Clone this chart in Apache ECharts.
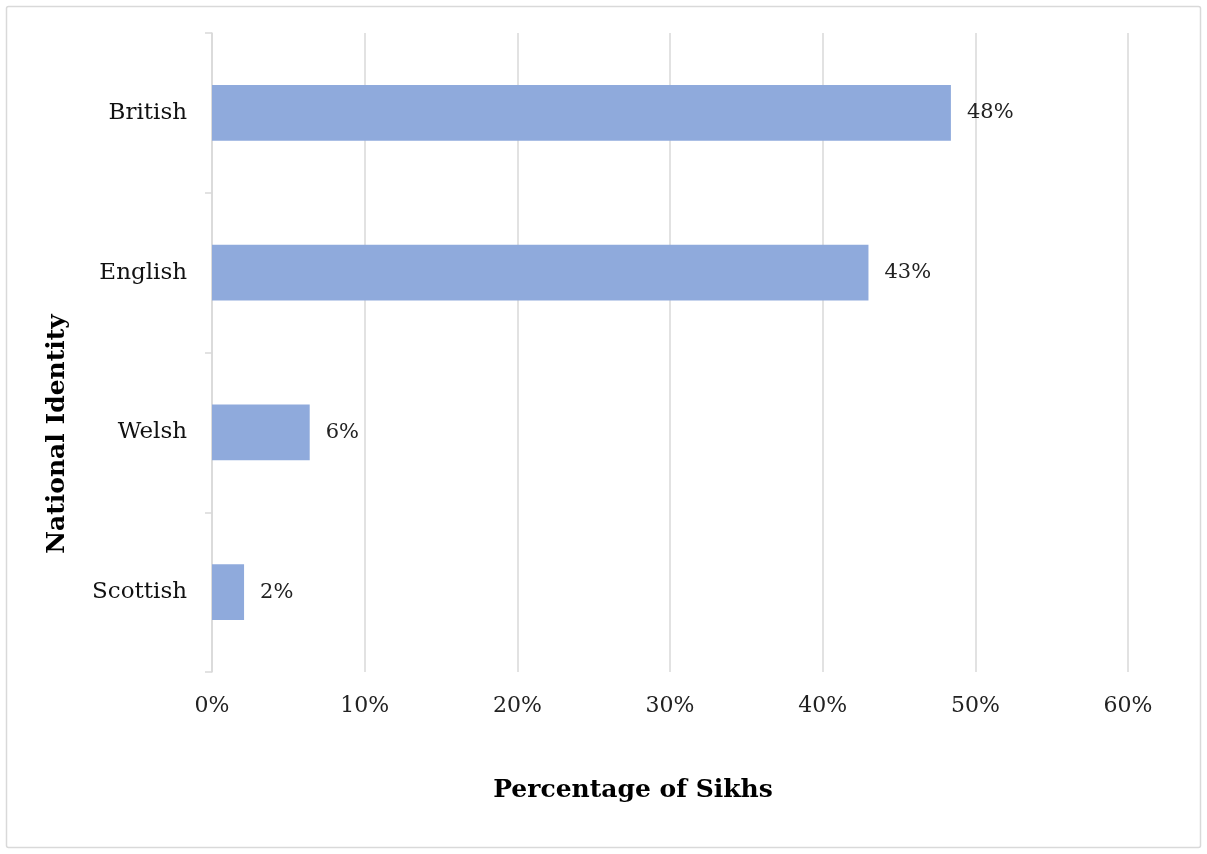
<!DOCTYPE html>
<html>
<head>
<meta charset="utf-8">
<script src="https://cdn.jsdelivr.net/npm/echarts@6/dist/echarts.min.js"></script>
<style>
  html, body { margin: 0; padding: 0; background: #fff; }
  #chart { width: 1207px; height: 854px; }
</style>
</head>
<body>
<div id="chart"></div>
<script>
// National identity categories, listed top to bottom
const categories = ['British', 'English', 'Welsh', 'Scottish'];
// Share of Sikhs identifying with each (percent)
const shares = [48.4, 43.0, 6.4, 2.1];
// Percentage axis range
const axisMin = 0;
const axisMax = 60;
const axisStep = 10;
// Axis titles
const xTitle = 'Percentage of Sikhs';
const yTitle = 'National Identity';

const FONT = '"DejaVu Serif", "Liberation Serif", serif';
const GRID_GREY = '#d9d9d9';

const chart = echarts.init(document.getElementById('chart'), null, { renderer: 'canvas' });

chart.setOption({
  backgroundColor: '#ffffff',
  animation: false,
  graphic: [
    {
      type: 'rect',
      shape: { x: 6.5, y: 6.5, width: 1194, height: 841, r: 2 },
      style: { fill: 'none', stroke: GRID_GREY, lineWidth: 1.5 },
      silent: true
    },
    {
      type: 'text',
      x: 633, y: 790,
      style: {
        text: xTitle, fontFamily: FONT, fontWeight: 'bold', fontSize: 25,
        fill: '#000', align: 'center', verticalAlign: 'middle'
      },
      silent: true
    },
    {
      type: 'text',
      x: 57, y: 434,
      rotation: Math.PI / 2,
      style: {
        text: yTitle, fontFamily: FONT, fontWeight: 'bold', fontSize: 25,
        fill: '#000', align: 'center', verticalAlign: 'middle'
      },
      silent: true
    }
  ],
  grid: { left: 212, right: 79, top: 33, bottom: 182, containLabel: false },
  xAxis: {
    type: 'value',
    min: axisMin,
    max: axisMax,
    interval: axisStep,
    axisLine: { show: false },
    axisTick: { show: false },
    axisLabel: {
      formatter: v => v + '%',
      fontFamily: FONT, fontSize: 22, color: '#222', margin: 23
    },
    splitLine: { show: true, lineStyle: { color: GRID_GREY, width: 1.5 } }
  },
  yAxis: {
    type: 'category',
    data: categories,
    inverse: true,
    axisLine: { show: true, lineStyle: { color: GRID_GREY, width: 1.5 } },
    axisTick: { show: true, length: 7, alignWithLabel: false, lineStyle: { color: GRID_GREY, width: 1.5 } },
    axisLabel: { fontFamily: FONT, fontSize: 23, color: '#111', margin: 25 },
    splitLine: { show: false }
  },
  series: [{
    type: 'bar',
    data: shares,
    barWidth: '35%',
    itemStyle: { color: '#8faadc' },
    label: {
      show: true,
      position: 'right',
      distance: 16,
      formatter: p => Math.round(p.value) + '%',
      fontFamily: FONT, fontSize: 21, color: '#222'
    }
  }]
});
</script>
</body>
</html>
